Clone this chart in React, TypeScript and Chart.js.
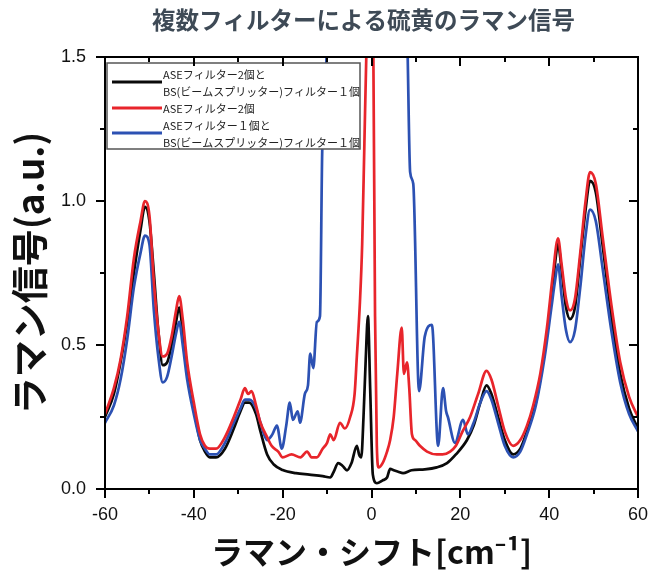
import React, { useEffect, useRef } from 'react';
import { Chart, registerables } from 'chart.js';

Chart.register(...registerables);

const titleText = '複数フィルターによる硫黄のラマン信号';
const xTitleText = 'ラマン・シフト[cm⁻¹]';
const yTitleText = 'ラマン信号(a.u.)';
const seriesNames = [
  ['ASEフィルター2個と', 'BS(ビームスプリッター)フィルター１個'],
  ['ASEフィルター2個'],
  ['ASEフィルター１個と', 'BS(ビームスプリッター)フィルター１個'],
];
const seriesColors = ['#0a0a0a', '#e8252b', '#2c51b3'];

const xMin = -60;
const xMax = 60;
const xMajorStep = 20;
const xMinorStep = 10;
const yMin = 0;
const yMax = 1.5;
const yMajorStep = 0.5;
const yMinorStep = 0.25;

// Black: ASE x2 + BS x1
const blackX = [-60, -58, -56.5, -55, -53.5, -52, -51, -50, -49, -48, -47, -46, -45, -44, -43.3, -42.5, -41.5, -40, -38.6, -37.5, -36.4, -35, -33, -31, -29.5, -28.5, -27.5, -26, -25, -23.5, -22, -20, -17, -14, -11, -9.3, -8.5, -7.5, -6.5, -5.5, -4.5, -3.3, -2.8, -2.3, -1.8, -1.3, -0.8, -0.3, 0.3, 1.2, 2.5, 3.5, 4.2, 5, 6, 7.1, 9, 12, 14.7, 17, 19, 21.5, 23, 24.5, 25.9, 27, 28.5, 30, 31.9, 33.5, 35, 37, 39, 40.5, 41.3, 42, 42.8, 43.8, 44.7, 45.8, 47, 48.2, 49.2, 50.5, 52, 54, 56, 58, 60];
const blackY = [0.25, 0.33, 0.44, 0.58, 0.75, 0.9, 0.98, 0.93, 0.75, 0.55, 0.43, 0.44, 0.5, 0.58, 0.63, 0.55, 0.42, 0.28, 0.17, 0.13, 0.11, 0.11, 0.14, 0.21, 0.27, 0.3, 0.3, 0.26, 0.2, 0.12, 0.085, 0.066, 0.055, 0.05, 0.045, 0.04, 0.06, 0.09, 0.08, 0.065, 0.09, 0.15, 0.12, 0.11, 0.25, 0.45, 0.6, 0.35, 0.05, 0.02, 0.03, 0.04, 0.07, 0.065, 0.06, 0.055, 0.065, 0.068, 0.075, 0.09, 0.12, 0.17, 0.22, 0.3, 0.36, 0.33, 0.25, 0.17, 0.12, 0.14, 0.2, 0.3, 0.48, 0.66, 0.78, 0.85, 0.76, 0.63, 0.59, 0.63, 0.8, 0.97, 1.07, 1.03, 0.85, 0.6, 0.4, 0.28, 0.21];

// Red: ASE x2 (the central peak runs off the top of the plot)
const redX = [-60, -58, -56.5, -55, -53.5, -52, -51, -50, -49, -48, -47, -46, -45, -44, -43.3, -42.5, -41.5, -40, -38.6, -37.5, -36.4, -35, -33, -31, -29.5, -28.5, -27.8, -27, -26, -25, -23.5, -22.5, -21, -20, -18, -16, -14.5, -13.5, -12.3, -11, -10, -9.3, -8.5, -7.1, -6, -4.8, -3.8, -3.3, -2.6, -2.1, -1.6, -1.1, -0.5, 0, 0.4, 0.8, 1.2, 1.6, 2.5, 3.5, 4.2, 5, 5.8, 6.8, 7.3, 8, 8.5, 9.1, 9.8, 10.9, 12.5, 14.7, 16, 17.7, 19, 20.5, 22.2, 24, 25.9, 27, 28.5, 30, 31.9, 33.5, 35, 36.4, 38, 39.5, 40.8, 42, 42.8, 43.8, 44.7, 45.8, 47, 48.2, 49.2, 50.5, 52, 54, 56, 58, 60];
const redY = [0.26, 0.35, 0.45, 0.6, 0.8, 0.93, 1.0, 0.95, 0.72, 0.55, 0.46, 0.47, 0.53, 0.62, 0.67, 0.59, 0.44, 0.3, 0.19, 0.15, 0.14, 0.14, 0.18, 0.25, 0.31, 0.35, 0.33, 0.34, 0.29, 0.23, 0.18, 0.15, 0.13, 0.11, 0.12, 0.11, 0.13, 0.11, 0.11, 0.14, 0.16, 0.19, 0.17, 0.23, 0.21, 0.25, 0.33, 0.46, 0.65, 0.85, 1.2, 1.55, 1.8, 1.8, 1.55, 0.6, 0.15, 0.075, 0.09, 0.13, 0.17, 0.25, 0.4, 0.56, 0.4, 0.44, 0.35, 0.19, 0.17, 0.15, 0.13, 0.12, 0.12, 0.13, 0.15, 0.2, 0.25, 0.33, 0.41, 0.38, 0.29, 0.2, 0.15, 0.17, 0.22, 0.29, 0.4, 0.56, 0.74, 0.87, 0.78, 0.66, 0.62, 0.66, 0.82, 1.0, 1.1, 1.06, 0.88, 0.64, 0.44, 0.32, 0.25];

// Blue: ASE x1 + BS x1 (off the top between about -10 and 8)
const blueX = [-60, -58, -56.5, -55, -53.5, -52, -51, -50, -49, -48, -47, -46, -45, -44, -43.3, -42.5, -41.5, -40, -38.6, -37.5, -36.4, -35, -33, -31, -29.5, -28.5, -27.5, -26, -25, -23.5, -22.3, -21.3, -20.2, -19.2, -18.4, -17.7, -16.6, -16.1, -15, -14.3, -13.8, -13.1, -12.3, -11.6, -11.1, -10.5, -10, -9, 7, 8, 8.7, 9.4, 10.7, 12, 13.6, 15, 16.1, 16.8, 17.2, 18.8, 20.6, 21.7, 23, 24.5, 25.9, 27, 28.5, 30, 31.9, 33.5, 35, 37, 39, 40.5, 41.3, 42, 42.8, 43.8, 44.7, 45.8, 47, 48.2, 49.2, 50.5, 52, 54, 56, 58, 60];
const blueY = [0.23, 0.29, 0.38, 0.52, 0.7, 0.82, 0.88, 0.85, 0.62, 0.46, 0.37, 0.39, 0.46, 0.54, 0.58, 0.5, 0.38, 0.26, 0.17, 0.14, 0.12, 0.12, 0.16, 0.23, 0.28, 0.31, 0.31, 0.28, 0.23, 0.17, 0.19, 0.22, 0.14, 0.22, 0.3, 0.24, 0.27, 0.23, 0.33, 0.36, 0.47, 0.42, 0.58, 0.6, 1.17, 1.35, 1.55, 1.8, 1.8, 1.6, 1.1, 1.06, 0.34, 0.53, 0.57, 0.15, 0.35, 0.27, 0.25, 0.16, 0.24, 0.19, 0.23, 0.3, 0.34, 0.31, 0.23, 0.15, 0.11, 0.13, 0.19, 0.29, 0.46, 0.63, 0.72, 0.78, 0.67, 0.55, 0.51, 0.55, 0.7, 0.88, 0.97, 0.93, 0.77, 0.55, 0.37, 0.26, 0.2];

const toPoints = (xs: number[], ys: number[]) => xs.map((x, i) => ({ x, y: ys[i] }));

const JP = '"Noto Sans CJK JP", "Noto Sans", sans-serif';
const NUM = '"Liberation Sans", Arial, sans-serif';
const AXIS = '#000000';

const isMultiple = (v: number, step: number) => Math.abs(v / step - Math.round(v / step)) < 1e-6;

function drawFrame(chart: any) {
  const { ctx, chartArea: a, scales } = chart;
  const xs = scales.x;
  const ys = scales.y;
  const L = Math.round(a.left);
  const R = Math.round(a.right);
  const T = Math.round(a.top);
  const B = Math.round(a.bottom);
  ctx.save();
  ctx.globalAlpha = 1;
  ctx.globalCompositeOperation = 'source-over';
  ctx.fillStyle = AXIS;
  ctx.fillRect(L - 1, T - 1, R - L + 2, 2);
  ctx.fillRect(L - 1, B - 1, R - L + 2, 2);
  ctx.fillRect(L - 1, T - 1, 2, B - T + 2);
  ctx.fillRect(R - 1, T - 1, 2, B - T + 2);
  const xCount = Math.round((xMax - xMin) / xMinorStep);
  for (let i = 0; i <= xCount; i++) {
    const v = xMin + i * xMinorStep;
    const px = Math.round(xs.getPixelForValue(v));
    const len = isMultiple(v, xMajorStep) ? 9 : 5;
    ctx.fillRect(px - 1, B, 2, len);
    ctx.fillRect(px - 1, T, 2, len);
  }
  const yCount = Math.round((yMax - yMin) / yMinorStep);
  for (let i = 0; i <= yCount; i++) {
    const v = yMin + i * yMinorStep;
    const py = Math.round(ys.getPixelForValue(v));
    const len = isMultiple(v, yMajorStep) ? 9 : 5;
    ctx.fillRect(L - len, py - 1, len, 2);
    ctx.fillRect(R - len, py - 1, len, 2);
  }
  ctx.restore();
}

function drawLegend(chart: any) {
  const { ctx, chartArea: a } = chart;
  const bx = a.left + 2;
  const by = a.top + 6;
  const bw = 253;
  const bh = 86;
  ctx.save();
  ctx.fillStyle = '#ffffff';
  ctx.fillRect(bx, by, bw, bh);
  ctx.strokeStyle = '#555555';
  ctx.lineWidth = 1.5;
  ctx.strokeRect(bx, by, bw, bh);
  ctx.font = '11px ' + JP;
  ctx.textBaseline = 'middle';
  ctx.textAlign = 'left';
  const lineH = 17;
  let ly = by + 12;
  for (let i = 0; i < seriesNames.length; i++) {
    const lines = seriesNames[i];
    const sy = lines.length > 1 ? ly + 7 : ly - 1;
    ctx.fillStyle = seriesColors[i];
    ctx.fillRect(bx + 5, sy - 1.5, 50, 3);
    ctx.fillStyle = '#222222';
    for (let k = 0; k < lines.length; k++) ctx.fillText(lines[k], bx + 56, ly + k * lineH);
    ly += lines.length * lineH;
  }
  ctx.restore();
}

function drawTitle(chart: any) {
  const { ctx, chartArea: a } = chart;
  ctx.save();
  ctx.fillStyle = '#3e4a56';
  ctx.font = 'bold 23.5px ' + JP;
  ctx.textAlign = 'center';
  ctx.textBaseline = 'middle';
  ctx.fillText(titleText, (a.left + a.right) / 2 - 8, a.top - 37);
  ctx.restore();
}

const overlayPlugin = {
  id: 'overlay',
  afterDraw(chart: any) {
    drawLegend(chart);
    drawTitle(chart);
  },
};

const framePlugin = {
  id: 'frameAfterRender',
  afterRender(chart: any) {
    drawFrame(chart);
  },
};

export default function App() {
  const ref = useRef<HTMLCanvasElement | null>(null);
  useEffect(() => {
    document.body.style.margin = '0';
    const canvas = ref.current;
    if (!canvas) return;
    const ctx = canvas.getContext('2d');
    if (ctx) ctx.reset && ctx.reset();
    // datasets listed so that red ends up on top, then blue, then black
    const chart = new Chart(canvas, {
      type: 'line',
      data: {
        datasets: [
          { label: seriesNames[1].join(''), data: toPoints(redX, redY), borderColor: seriesColors[1] },
          { label: seriesNames[2].join(''), data: toPoints(blueX, blueY), borderColor: seriesColors[2] },
          { label: seriesNames[0].join(''), data: toPoints(blackX, blackY), borderColor: seriesColors[0] },
        ].map((d) => ({ ...d, borderWidth: 2.7, pointRadius: 0, fill: false, tension: 0.35, cubicInterpolationMode: 'monotone' as const })),
      },
      options: {
        responsive: false,
        animation: false,
        parsing: false as any,
        layout: { padding: { left: 0, right: 28, top: 57, bottom: 0 } },
        plugins: {
          legend: { display: false },
          tooltip: { enabled: false },
          title: { display: false },
        },
        scales: {
          x: {
            type: 'linear',
            min: xMin,
            max: xMax,
            grid: { display: true, drawOnChartArea: false, color: 'rgba(0,0,0,0)', drawTicks: true, tickLength: 9 },
            border: { display: false },
            ticks: { stepSize: xMajorStep, color: '#111', font: { family: NUM, size: 18 }, padding: 6, maxRotation: 0 },
            title: {
              display: true,
              text: xTitleText,
              color: '#111',
              font: { family: JP, size: 32, weight: 'bold', lineHeight: 1.2 },
              padding: { top: 0, bottom: 3 },
            },
            afterFit: (s: any) => { s.height = 85; },
          },
          y: {
            type: 'linear',
            min: yMin,
            max: yMax,
            grid: { display: true, drawOnChartArea: false, color: 'rgba(0,0,0,0)', drawTicks: true, tickLength: 9 },
            border: { display: false },
            ticks: { stepSize: yMajorStep, color: '#111', font: { family: NUM, size: 18 }, padding: 10, callback: (v: any) => Number(v).toFixed(1) },
            title: {
              display: true,
              text: yTitleText,
              color: '#111',
              font: { family: JP, size: 37, weight: 'bold', lineHeight: 1.2 },
              padding: { top: 8, bottom: 0 },
            },
            afterFit: (s: any) => { s.width = 105; },
          },
        },
      },
      plugins: [overlayPlugin, framePlugin],
    });
    return () => chart.destroy();
  }, []);
  return (
    <div style={{ width: 666, height: 574, background: '#fff' }}>
      <canvas ref={ref} width={666} height={574} style={{ display: 'block' }} />
    </div>
  );
}
